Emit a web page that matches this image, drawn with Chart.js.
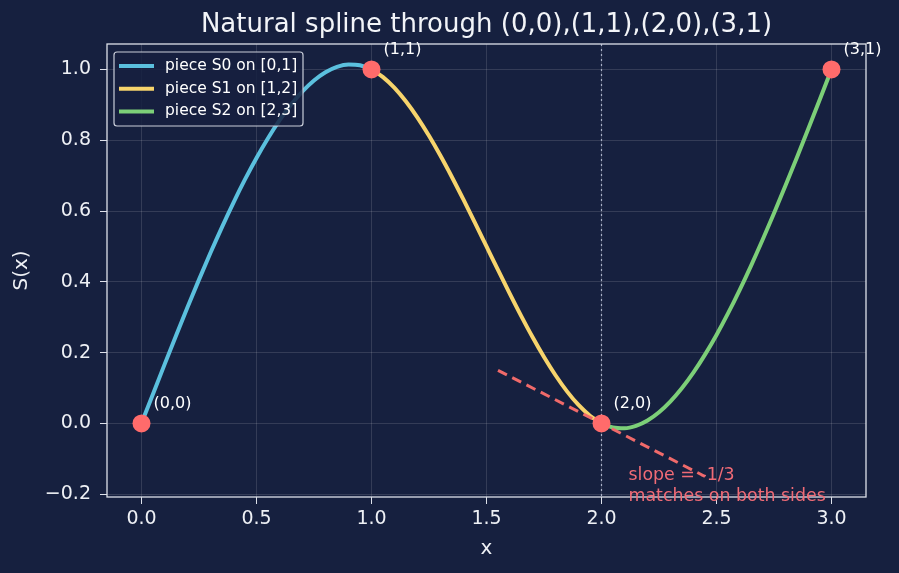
<!DOCTYPE html>
<html>
<head>
<meta charset="utf-8">
<script src="https://cdn.jsdelivr.net/npm/chart.js@4.4.1/dist/chart.umd.min.js"></script>
<style>
  html, body { margin: 0; padding: 0; background: #16203f; }
  canvas { display: block; }
</style>
</head>
<body>
<canvas id="chart" width="899" height="573"></canvas>
<script>
// offsets inside each unit piece
const steps = [0, 0.05, 0.1, 0.15, 0.2, 0.25, 0.3, 0.35, 0.4, 0.45, 0.5,
  0.55, 0.6, 0.65, 0.7, 0.75, 0.8, 0.85, 0.9, 0.95, 1];

// spline values on each piece
const s0Values = [0, 0.08325, 0.166, 0.24775, 0.328, 0.40625, 0.482, 0.55475, 0.624, 0.68925, 0.75,
  0.80575, 0.856, 0.90025, 0.938, 0.96875, 0.992, 1.00725, 1.014, 1.01175, 1];
const s1Values = [1, 0.9785, 0.948, 0.9095, 0.864, 0.8125, 0.756, 0.6955, 0.632, 0.5665, 0.5,
  0.4335, 0.368, 0.3045, 0.244, 0.1875, 0.136, 0.0905, 0.052, 0.0215, 0];
const s2Values = [0, -0.01175, -0.014, -0.00725, 0.008, 0.03125, 0.062, 0.09975, 0.144, 0.19425, 0.25,
  0.31075, 0.376, 0.44525, 0.518, 0.59375, 0.672, 0.75225, 0.834, 0.91675, 1];

const pieceStarts = [0, 1, 2];
const pieceLabels = ["piece S0 on [0,1]", "piece S1 on [1,2]", "piece S2 on [2,3]"];
const pieceColors = ["#5bc0de", "#f7d46c", "#7ccf78"];

const knotX = [0, 1, 2, 3];
const knotY = [0, 1, 0, 1];
const knotLabels = ["(0,0)", "(1,1)", "(2,0)", "(3,1)"];

const tangentX = [1.55, 2.45];
const tangentY = [0.15, -0.15];
const noteLines = ["slope = -1/3", "matches on both sides"];

const xTicks = [0, 0.5, 1, 1.5, 2, 2.5, 3];
const yTicks = [-0.2, 0, 0.2, 0.4, 0.6, 0.8, 1.0];

const TITLE = "Natural spline through (0,0),(1,1),(2,0),(3,1)";
const FONT = "'DejaVu Sans', sans-serif";
const BG = "#16203f";

function piece(start, vals) {
  return steps.map((s, i) => ({ x: start + s, y: vals[i] }));
}

const decor = {
  id: "decor",
  beforeDraw(chart) {
    const c = chart.ctx, a = chart.chartArea;
    c.save();
    c.fillStyle = BG;
    c.fillRect(0, 0, chart.width, chart.height);
    // title centred over the plot area
    c.fillStyle = "#f2f4f8";
    c.font = "26px " + FONT;
    c.textAlign = "center";
    c.textBaseline = "middle";
    c.fillText(TITLE, (a.left + a.right) / 2, 25);
    c.restore();
  },
  beforeDatasetsDraw(chart) {
    const c = chart.ctx, a = chart.chartArea;
    const x = chart.scales.x.getPixelForValue(2);
    c.save();
    c.strokeStyle = "#a9b1c8";
    c.lineWidth = 1.2;
    c.setLineDash([2, 3]);
    c.beginPath();
    c.moveTo(x, a.top);
    c.lineTo(x, a.bottom);
    c.stroke();
    c.restore();
  },
  afterDatasetsDraw(chart) {
    const c = chart.ctx, a = chart.chartArea;
    const sx = chart.scales.x, sy = chart.scales.y;
    c.save();
    // frame
    c.strokeStyle = "#dde1ea";
    c.lineWidth = 1.3;
    c.strokeRect(a.left, a.top, a.right - a.left, a.bottom - a.top);

    // knot labels
    c.fillStyle = "#ffffff";
    c.font = "16px " + FONT;
    c.textBaseline = "middle";
    c.textAlign = "left";
    knotX.forEach((kx, i) => {
      c.fillText(knotLabels[i], sx.getPixelForValue(kx) + 12, sy.getPixelForValue(knotY[i]) - 20);
    });

    // slope note
    c.fillStyle = "#f06b76";
    c.font = "17.4px " + FONT;
    const nx = sx.getPixelForValue(2) + 27;
    const ny = sy.getPixelForValue(0) + 52;
    noteLines.forEach((t, i) => c.fillText(t, nx, ny + i * 21));

    // legend
    const lx = a.left + 7, ly = a.top + 8, lw = 189, lh = 74;
    c.fillStyle = "rgba(22,32,63,0.85)";
    c.strokeStyle = "#c9cdd9";
    c.lineWidth = 1.2;
    c.beginPath();
    c.roundRect(lx, ly, lw, lh, 3);
    c.fill();
    c.stroke();
    c.font = "15.5px " + FONT;
    pieceLabels.forEach((lab, i) => {
      const y = ly + 14 + i * 22.7;
      c.strokeStyle = pieceColors[i];
      c.lineWidth = 4;
      c.beginPath();
      c.moveTo(lx + 5, y);
      c.lineTo(lx + 40, y);
      c.stroke();
      c.fillStyle = "#ffffff";
      c.fillText(lab, lx + 51, y);
    });
    c.restore();
  }
};

const pieceSets = [s0Values, s1Values, s2Values].map((vals, i) => ({
  label: pieceLabels[i],
  data: piece(pieceStarts[i], vals),
  borderColor: pieceColors[i],
  borderWidth: 4,
  pointRadius: 0,
  cubicInterpolationMode: "monotone",
  order: 3
}));

new Chart(document.getElementById("chart"), {
  type: "line",
  data: {
    datasets: [
      ...pieceSets,
      {
        label: "tangent",
        data: tangentX.map((x, i) => ({ x: x, y: tangentY[i] })),
        borderColor: "#f06a6a",
        borderWidth: 3,
        borderDash: [10, 6],
        pointRadius: 0,
        order: 2
      },
      {
        label: "knots",
        data: knotX.map((x, i) => ({ x: x, y: knotY[i] })),
        showLine: false,
        pointRadius: 9,
        pointBackgroundColor: "#ff6b6b",
        pointBorderColor: "#ff6b6b",
        pointBorderWidth: 0,
        order: 1
      }
    ]
  },
  options: {
    responsive: false,
    animation: false,
    devicePixelRatio: 1,
    layout: { padding: { left: 0, right: 33, top: 44, bottom: 0 } },
    plugins: {
      legend: { display: false },
      tooltip: { enabled: false },
      title: { display: false }
    },
    scales: {
      x: {
        type: "linear",
        min: -0.15,
        max: 3.15,
        afterBuildTicks: (s) => { s.ticks = xTicks.map((v) => ({ value: v })); },
        afterFit: (s) => { s.height = 76; },
        ticks: {
          color: "#eef0f5",
          font: { family: FONT, size: 19 },
          padding: 4,
          maxRotation: 0,
          callback: (v) => v.toFixed(1)
        },
        grid: { color: "rgba(255,255,255,0.13)", tickColor: "#dde1ea", tickLength: 7 },
        border: { display: false },
        title: {
          display: true,
          text: "x",
          color: "#eef0f5",
          font: { family: FONT, size: 20 },
          padding: { top: 0, bottom: 12 }
        }
      },
      y: {
        min: -0.208,
        max: 1.072,
        afterBuildTicks: (s) => { s.ticks = yTicks.map((v) => ({ value: v })); },
        afterFit: (s) => { s.width = 107; },
        ticks: {
          color: "#eef0f5",
          font: { family: FONT, size: 19 },
          padding: 9,
          callback: (v) => (v < 0 ? "\u2212" + Math.abs(v).toFixed(1) : v.toFixed(1))
        },
        grid: { color: "rgba(255,255,255,0.13)", tickColor: "#dde1ea", tickLength: 7 },
        border: { display: false },
        title: {
          display: true,
          text: "S(x)",
          color: "#eef0f5",
          font: { family: FONT, size: 20 },
          padding: { top: 10, bottom: 0 }
        }
      }
    }
  },
  plugins: [decor]
});
</script>
</body>
</html>
